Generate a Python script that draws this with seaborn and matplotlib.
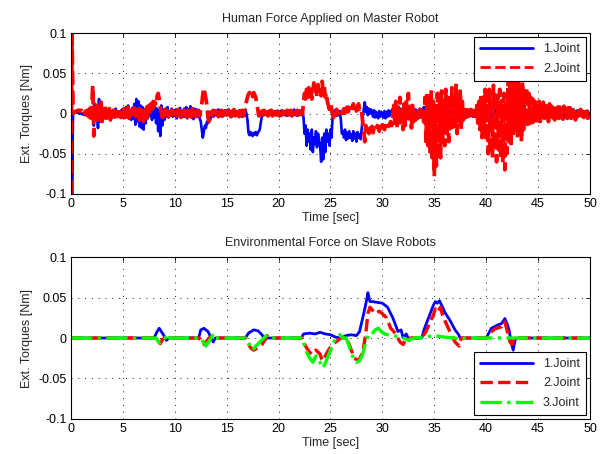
import numpy as np
import pandas as pd
import matplotlib
matplotlib.use("Agg")
import matplotlib.pyplot as plt
import seaborn as sns

# ---------------- data (top: sampled every 0.1 s, values in mNm) ----------------
master_joint1_mNm = [
    100, -100, 3, 3, 2, 2, 1, 1, 0, 0,
    0, -1, 0, -2, 1, -1, 2, -3, 3, -2,
    -6, 8, -15, 12, -8, 5, -18, 18, -10, 4,
    -8, 6, -4, 3, -5, 4, -2, 5, -3, 2,
    -3, 4, -5, 6, -2, 3, -4, 2, -3, 5,
    -5, 6, -4, 8, -3, 10, -6, 4, -8, 7,
    -6, 12, -14, 18, -10, 15, -16, 10, -18, 8,
    -20, 5, -12, 8, -6, 4, -3, 6, -8, 3,
    -5, 8, -12, 6, -22, 4, -28, 10, -15, 5,
    -8, 6, -4, 8, -5, 3, -2, 6, -4, 4,
    -3, 5, -6, 4, -2, 7, -5, 3, -4, 6,
    -4, 8, -6, 5, -3, 9, -5, 4, -7, 6,
    -3, 5, -4, 3, -6, -10, -20, -30, -22, -15,
    -18, -10, -12, -5, -8, -2, 3, -4, 2, -2,
    4, -3, 5, -2, 3, -4, 2, -3, 4, -1,
    3, -2, 5, -3, 2, -4, 3, -2, 4, -3,
    2, -3, 4, -2, 3, -4, 2, -3, 5, 0,
    -8, -24, -27, -23, -26, -28, -24, -26, -23, -27,
    -24, -22, -19, -10, -3, 2, -2, 3, -1, 2,
    -2, 3, -1, 4, -3, 2, -2, 3, -1, 2,
    -3, 2, -2, 4, -1, 3, -2, 2, -3, 3,
    -2, 4, -3, 2, -1, 5, -2, 3, -3, 2,
    -1, 4, -2, 3, -5, -25, -15, -40, -20, -35,
    -25, -45, -20, -48, -30, -38, -22, -42, -25, -35,
    -40, -60, -30, -57, -25, -48, -20, -35, -25, -40,
    -20, -30, -5, 3, -2, 5, -3, 4, -2, 3,
    -8, -25, -22, -30, -20, -33, -24, -31, -22, -30,
    -26, -34, -22, -31, -25, -35, -23, -30, -26, -32,
    -20, -5, 5, 14, 2, 8, -2, 6, 0, 5,
    3, -4, 4, -5, 2, -3, -6, 3, -4, 2,
    -2, -5, 3, -6, 2, -4, 4, -3, 3, 0,
    6, -5, 10, -8, 4, -6, 8, -3, 5, -4,
    3, -6, 5, -4, 2, -5, 4, -3, 6, -2,
    4, -3, 5, -4, 2, -2, 6, -5, 3, -3,
    8, -10, 6, -8, 4, -12, 10, -6, 5, -8,
    10, -12, 8, -10, 5, -9, 12, -6, 7, -5,
    6, -8, 4, -6, 9, -4, 5, -7, 3, -5,
    4, -6, 5, -4, 3, -5, 6, -3, 4, -2,
    3, -4, 2, -3, 4, -2, 3, -4, 2, -3,
    2, -3, 4, -2, 3, -4, 2, -3, 3, -2,
    4, -6, 5, -4, 6, -5, 3, -6, 4, -3,
    5, -4, 6, -3, 4, -6, 3, -5, 6, -4,
    4, -5, 3, -6, 5, -3, 6, -4, 3, -5,
    6, -3, 4, -5, 3, -4, 5, -6, 4, -3,
    3, -5, 6, -4, 4, -3, 5, -5, 3, -4,
    4, -3, 5, -6, 3, -4, 6, -3, 4, -5,
    5, -4, 3, -3, 6, -5, 2, -2, 4, -3,
    3, -5, 4, -2, 5, -6, 2, -3, 4, -2,
    3, -4, 2, -3, 5, -4, 3, -2, 4, -3,
    2, -3, 4, -2, 3, -4, 2, -3, 3, -2,
    0,
]

master_joint2_mNm = [
    -100, 100, 0, 1, 2, 3, 3, 4, 4, 3,
    4, 2, 5, 0, 3, -2, 4, -4, 6, -8,
    10, 35, -28, 12, -10, 15, -12, 8, -6, 14,
    -10, 8, -5, 10, -6, 4, -3, 6, -8, 5,
    -2, 4, -6, 3, -4, 5, -3, 2, -5, 4,
    -3, 6, -5, 2, -4, 8, -6, 3, -2, 5,
    -4, 7, -8, 4, -3, 6, -12, 5, -4, 3,
    -10, 4, -6, 8, -4, 10, -2, 12, 5, 15,
    8, 14, 10, 22, 25, 18, 8, 2, -5, 4,
    -3, 5, -2, 3, -4, 2, -3, 4, -2, 3,
    -4, 2, -3, 5, -2, 3, -5, 2, -3, 4,
    -2, 3, -5, 4, -3, 2, -4, 6, -3, 2,
    -4, 3, -2, 4, -3, 5, 12, 24, 32, 25,
    18, 10, -5, -10, -4, 2, -3, 4, -2, 3,
    -1, 3, -4, 2, -2, 4, -3, 2, -1, 3,
    -2, 4, -3, 2, -4, 3, -2, 5, -3, 2,
    -3, 2, -4, 3, -2, 4, -3, 2, 5, 15,
    20, 24, 26, 22, 25, 21, 26, 23, 20, 12,
    5, -3, 2, -4, 3, -2, 4, -3, 2, -2,
    -3, 3, -2, 4, -3, 2, -1, 3, -2, 3,
    2, -3, 4, -2, 3, -1, 2, -3, 4, -2,
    3, -2, 4, -3, 2, -2, 3, -1, 4, -2,
    2, -2, 3, -1, 15, 25, 18, 30, 20, 32,
    22, 34, 18, 28, 38, 24, 32, 20, 36, 26,
    30, 22, 40, 25, 33, 20, 26, 15, 10, 5,
    12, 6, 0, -5, 2, -2, 5, 0, 3, 2,
    5, 0, 3, 6, -2, 4, 8, 2, 6, 10,
    4, 8, 12, 6, 10, 3, 8, 12, 5, 7,
    2, -10, -20, -35, -15, -28, -20, -25, -18, -22,
    -16, -24, -18, -20, -22, -15, -18, -22, -16, -20,
    -14, -18, -20, -15, -18, -12, -16, -14, -10, -15,
    -8, 10, -12, 15, -18, 8, -15, 20, -10, 5,
    -20, 12, -15, 18, -8, 25, -12, 14, -18, 10,
    -10, 6, -8, 4, -6, 8, -4, 5, -3, 2,
    -15, 20, -35, 25, -40, 18, -50, 30, -55, 15,
    -78, 10, -65, 25, -50, 20, -55, 28, -35, 15,
    -40, 30, -25, 20, -35, 25, -18, 32, -22, 28,
    -15, 37, -25, 18, -10, 30, -20, 15, -8, 10,
    -5, 8, -4, 6, -3, 5, -2, 4, -3, 3,
    -6, 10, -12, 15, -20, 25, -30, 20, -25, 30,
    -35, 25, -50, 30, -40, 22, -55, 35, -45, 28,
    -60, 20, -45, 30, -55, 18, -62, 25, -70, 15,
    -50, 45, -35, 55, -40, 50, -30, 35, -20, 40,
    -30, 45, -25, 30, -35, 40, -20, 28, -15, 32,
    -18, 25, -12, 20, -15, 18, -10, 15, -8, 12,
    -12, 15, -10, 12, -8, 14, -6, 10, -8, 8,
    -10, 12, -7, 9, -5, 10, -8, 6, -5, 8,
    -6, 8, -5, 6, -7, 9, -4, 5, -6, 7,
    -5, 7, -6, 4, -3, 6, -8, 5, -4, 3,
    -6, 5, -3, 4, -5, 2, -4, 3, -6, 2,
    -3,
]

master_time_sec = np.linspace(0, 50, len(master_joint1_mNm))

# ---------------- data (bottom: breakpoints, values in mNm) ----------------
slave_t1 = [0, 8.0, 8.3, 8.5, 8.7, 9.0, 9.2, 9.4, 12.3, 12.5, 12.8, 13.2, 13.5, 13.7, 13.9,
            16.8, 17.1, 17.6, 18.0, 18.4, 18.7, 18.9, 22.2, 22.4, 23.0, 23.5, 24.0, 24.5, 25.0,
            25.5, 26.0, 26.5, 27.0, 27.5, 27.8, 28.2, 28.5, 28.6, 28.8, 29.0, 29.5, 30.0, 30.5,
            31.0, 31.3, 31.5, 31.8, 32.0, 32.3, 32.6, 32.8, 33.8, 34.0, 34.3, 34.6, 34.9, 35.1,
            35.3, 35.5, 35.8, 36.0, 36.5, 37.0, 37.3, 37.5, 40.0, 40.2, 40.5, 40.8, 41.1, 41.5,
            41.8, 42.0, 42.2, 42.4, 42.6, 42.8, 43.0, 50.0]
slave_joint1_mNm = [0, 0, 8, 12, 8, 2, -3, 0, 0, 10, 12, 8, 0, -5, 0,
                    0, 6, 10, 9, 4, -2, 0, 0, 5, 6, 5, 7, 5, 4,
                    1, 0, 3, 4, 3, 8, 30, 48, 56, 45, 45, 44, 43, 38,
                    25, 15, 8, 10, 0, 5, -3, 0, 0, 10, 20, 30, 40, 45,
                    43, 46, 38, 32, 22, 10, 5, 0, 0, 5, 12, 14, 16, 18,
                    24, 18, 10, -5, -15, -2, 0, 0]

slave_t2 = [0, 8.2, 8.4, 8.6, 8.8, 9.0, 12.3, 12.5, 12.8, 13.0, 13.3, 13.6, 13.8,
            16.8, 17.0, 17.3, 17.6, 18.0, 18.4, 18.7, 18.9, 19.1, 22.2, 22.6, 23.0, 23.3,
            23.6, 24.0, 24.2, 24.5, 24.8, 25.2, 25.8, 26.0, 26.5, 26.8, 27.3, 27.7, 28.1,
            28.4, 28.6, 28.8, 29.0, 29.3, 29.7, 30.0, 30.4, 30.8, 31.1, 31.4, 31.7, 32.0,
            32.3, 32.5, 32.7, 33.8, 34.2, 34.6, 34.9, 35.1, 35.3, 35.6, 35.8, 36.0, 36.5,
            37.0, 37.4, 37.6, 40.0, 40.3, 40.7, 41.0, 41.5, 41.8, 42.0, 42.3, 42.5, 42.7, 50.0]
slave_joint2_mNm = [0, 0, -4, -7, -2, 0, 0, -2, -8, -5, 0, 2, 0,
                    0, -5, -12, -15, -12, -8, -2, 3, 0, 0, -10, -18, -20,
                    -15, -20, -28, -22, -15, -8, -2, 0, 0, -8, -25, -28, -18,
                    5, 30, 38, 35, 30, 33, 30, 25, 12, 8, 2, -5, -8,
                    0, -2, 0, 0, 8, 20, 28, 36, 32, 38, 28, 22, 8,
                    -5, -10, 0, 0, 5, 10, 12, 14, 20, 10, -5, -8, 0, 0]

slave_t3 = [0, 8.2, 8.4, 8.6, 9.0, 9.3, 9.5, 12.5, 12.8, 13.0, 13.2, 13.5, 13.7, 13.9,
            16.8, 17.2, 17.5, 17.8, 18.2, 18.6, 18.8, 19.0, 22.3, 22.6, 23.0, 23.3, 23.6,
            24.0, 24.3, 24.6, 25.0, 25.3, 25.6, 25.9, 26.2, 26.5, 26.8, 27.2, 27.5, 27.8,
            28.1, 28.4, 28.7, 29.0, 29.3, 29.6, 29.9, 30.2, 30.8, 31.5, 32.0, 32.5, 33.0,
            34.0, 35.0, 35.5, 36.0, 37.0, 37.5, 38.0, 50.0]
slave_joint3_mNm = [0, 0, -4, -6, -2, 5, 0, 0, -6, -10, -6, 0, 5, 0,
                    0, -8, -15, -10, -5, 0, 3, 0, 0, -15, -25, -30, -22,
                    -30, -37, -28, -15, -5, 0, 4, 0, 0, -10, -25, -30, -28,
                    -20, -5, 5, 5, 10, 12, 8, 5, 3, 2, 0, -3, 0,
                    1, 3, 2, 1, 0, -2, 0, 0]

x_ticks = [0, 5, 10, 15, 20, 25, 30, 35, 40, 45, 50]
y_ticks = [-0.1, -0.05, 0, 0.05, 0.1]
y_tick_labels = ["-0.1", "-0.05", "0", "0.05", "0.1"]

# ---------------- styling ----------------
sns.set_theme(style="white")
plt.rcParams["font.family"] = ["Liberation Sans", "DejaVu Sans"]
plt.rcParams["font.size"] = 9

BLUE, RED, GREEN = (0, 0, 1), (1, 0, 0), (0, 1, 0)

fig = plt.figure(figsize=(6.11, 4.54), dpi=100)
ax1 = fig.add_axes([0.1162, 0.5727, 0.8494, 0.3546])
ax2 = fig.add_axes([0.1162, 0.0771, 0.8494, 0.3568])


def style_axes(ax, title):
    ax.set_xlim(0, 50)
    ax.set_ylim(-0.1, 0.1)
    ax.set_xticks(x_ticks)
    ax.set_xticklabels([str(v) for v in x_ticks])
    ax.set_yticks(y_ticks)
    ax.set_yticklabels(y_tick_labels)
    ax.tick_params(direction="in", top=True, right=True, length=3, width=0.6,
                   labelsize=9, colors="black", pad=3)
    ax.grid(True, linestyle=(0, (1, 6)), color="black", linewidth=0.7, alpha=0.9)
    for sp in ax.spines.values():
        sp.set_color("black")
        sp.set_linewidth(0.8)
    ax.set_title(title, fontsize=9, pad=8)
    ax.set_xlabel("Time [sec]", fontsize=9, labelpad=1)
    ax.set_ylabel("Ext. Torques [Nm]", fontsize=9, labelpad=4)


top = pd.DataFrame({"t": master_time_sec,
                    "j1": np.array(master_joint1_mNm) / 1000.0,
                    "j2": np.array(master_joint2_mNm) / 1000.0})

sns.lineplot(data=top, x="t", y="j1", ax=ax1, color=BLUE, lw=1.9, label="1.Joint")
sns.lineplot(data=top, x="t", y="j2", ax=ax1, color=RED, lw=2.7, linestyle="--",
             label="2.Joint")
style_axes(ax1, "Human Force Applied on Master Robot")
leg1 = ax1.legend(loc="upper right", fancybox=False, framealpha=1, edgecolor="black",
                  fontsize=9, handlelength=4.2, borderpad=0.5, labelspacing=0.6,
                  borderaxespad=0.3)
leg1.get_frame().set_linewidth(0.8)
for h in leg1.get_lines():
    h.set_linewidth(2.0)

sns.lineplot(x=slave_t1, y=np.array(slave_joint1_mNm) / 1000.0, ax=ax2, color=BLUE,
             lw=2.0, label="1.Joint")
sns.lineplot(x=slave_t2, y=np.array(slave_joint2_mNm) / 1000.0, ax=ax2, color=RED,
             lw=2.4, linestyle="--", label="2.Joint")
sns.lineplot(x=slave_t3, y=np.array(slave_joint3_mNm) / 1000.0, ax=ax2, color=GREEN,
             lw=2.4, linestyle="-.", label="3.Joint")
style_axes(ax2, "Environmental Force on Slave Robots")
leg2 = ax2.legend(loc="lower right", fancybox=False, framealpha=1, edgecolor="black",
                  fontsize=9, handlelength=4.2, borderpad=0.5, labelspacing=0.6,
                  borderaxespad=0.3)
leg2.get_frame().set_linewidth(0.8)

fig.savefig("out.png", dpi=100)
